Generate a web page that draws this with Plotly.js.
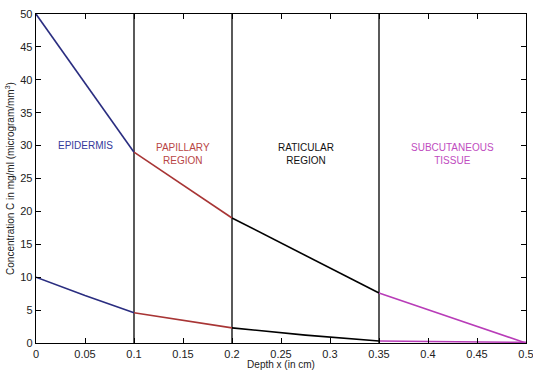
<!DOCTYPE html>
<html><head><meta charset="utf-8">
<script src="https://cdn.plot.ly/plotly-3.0.1.min.js"></script>
<style>body{margin:0;background:#fff}#c{width:533px;height:375px}</style>
</head><body><div id="c"></div>
<script>
// Upper profile
const xUpEpi = [0, 0.1], yUpEpi = [50, 29];
const xUpPap = [0.1, 0.2], yUpPap = [29, 19];
const xUpRat = [0.2, 0.35], yUpRat = [19, 7.6];
const xUpSub = [0.35, 0.5], yUpSub = [7.6, 0];
// Lower profile
const xLoEpi = [0, 0.05, 0.1], yLoEpi = [10, 7.2, 4.6];
const xLoPap = [0.1, 0.15, 0.2], yLoPap = [4.6, 3.4, 2.3];
const xLoRat = [0.2, 0.275, 0.35], yLoRat = [2.3, 1.2, 0.3];
const xLoSub = [0.35, 0.5], yLoSub = [0.3, 0.1];
// Layer boundaries
const boundaries = [0.1, 0.2, 0.35];
const xTicks = [0, 0.05, 0.1, 0.15, 0.2, 0.25, 0.3, 0.35, 0.4, 0.45, 0.5];
const xTickText = ['0', '0.05', '0.1', '0.15', '0.2', '0.25', '0.3', '0.35', '0.4', '0.45', '0.5'];
const labels = [
  {x: 0.05, y: 30, text: 'EPIDERMIS', color: '#35399a'},
  {x: 0.15, y: 28.8, text: 'PAPILLARY<br>REGION', color: '#b84545'},
  {x: 0.275, y: 28.8, text: 'RATICULAR<br>REGION', color: '#111111'},
  {x: 0.425, y: 28.8, text: 'SUBCUTANEOUS<br>TISSUE', color: '#c04cc0'}
];
const cBlue = '#2a2d80', cRed = '#a83535', cBlack = '#000000', cMag = '#b83cb8';
const traces = [];
function ln(x, y, c) { traces.push({x: x, y: y, mode: 'lines', line: {color: c, width: 1.6}, hoverinfo: 'skip'}); }
boundaries.forEach(b => traces.push({x: [b, b], y: [0, 50], mode: 'lines', line: {color: '#000', width: 1.3}, hoverinfo: 'skip'}));
ln(xUpEpi, yUpEpi, cBlue); ln(xUpPap, yUpPap, cRed); ln(xUpRat, yUpRat, cBlack); ln(xUpSub, yUpSub, cMag);
ln(xLoEpi, yLoEpi, cBlue); ln(xLoPap, yLoPap, cRed); ln(xLoRat, yLoRat, cBlack); ln(xLoSub, yLoSub, cMag);
const layout = {
  width: 533, height: 375, showlegend: false,
  margin: {l: 36, r: 7, t: 14, b: 32},
  paper_bgcolor: '#fff', plot_bgcolor: '#fff',
  font: {family: 'Liberation Sans, Arial, sans-serif', size: 10, color: '#222'},
  xaxis: {range: [0, 0.5], tickvals: xTicks, ticktext: xTickText, ticklabeloverflow: 'allow',
    tickfont: {size: 11},
    ticks: 'inside', ticklen: 5, tickcolor: '#000', showline: true, linecolor: '#000', linewidth: 1.3, mirror: 'allticks',
    showgrid: false, zeroline: false, title: {text: 'Depth x (in cm)', font: {size: 10}, standoff: 2}},
  yaxis: {range: [0, 50], dtick: 5, ticks: 'inside', ticklen: 5, tickcolor: '#000', showline: true, linecolor: '#000', linewidth: 1.3,
    tickfont: {size: 11}, ticklabeloverflow: 'allow',
    mirror: 'allticks', showgrid: false, zeroline: false,
    title: {text: 'Concentration C in mg/ml (microgram/mm<sup>3</sup>)', font: {size: 10}, standoff: 3}},
  annotations: labels.map(l => ({x: l.x, y: l.y, text: l.text, showarrow: false, font: {size: 10, color: l.color}}))
};
Plotly.newPlot('c', traces, layout, {displayModeBar: false, staticPlot: true});
</script></body></html>
